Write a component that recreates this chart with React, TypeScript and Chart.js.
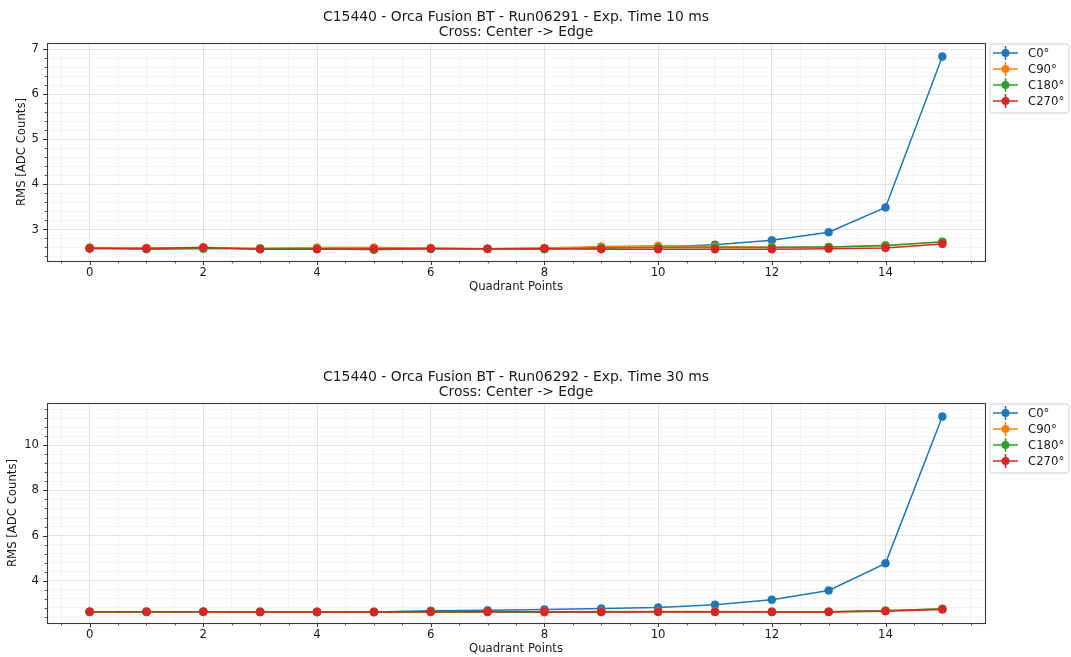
import React, { useEffect, useRef } from 'react';
import { Chart, registerables } from 'chart.js';

Chart.register(...registerables);

const quadrantPoints = [0, 1, 2, 3, 4, 5, 6, 7, 8, 9, 10, 11, 12, 13, 14, 15];
const seriesLabels = ['C0°', 'C90°', 'C180°', 'C270°'];
const seriesColors = ['#1f77b4', '#ff7f0e', '#2ca02c', '#d62728'];

// Run06291 - 10 ms
const run06291_C0 = [2.58, 2.58, 2.59, 2.57, 2.58, 2.56, 2.57, 2.57, 2.58, 2.6, 2.61, 2.66, 2.76, 2.94, 3.49, 6.84];
const run06291_C90 = [2.6, 2.59, 2.6, 2.58, 2.6, 2.6, 2.59, 2.57, 2.59, 2.62, 2.64, 2.62, 2.61, 2.61, 2.65, 2.72];
const run06291_C180 = [2.59, 2.56, 2.57, 2.58, 2.57, 2.55, 2.57, 2.57, 2.56, 2.59, 2.6, 2.6, 2.6, 2.61, 2.64, 2.73];
const run06291_C270 = [2.58, 2.58, 2.6, 2.56, 2.56, 2.57, 2.58, 2.57, 2.58, 2.56, 2.56, 2.56, 2.56, 2.57, 2.59, 2.68];

// Run06292 - 30 ms
const run06292_C0 = [2.63, 2.63, 2.63, 2.62, 2.62, 2.62, 2.67, 2.69, 2.73, 2.77, 2.82, 2.94, 3.16, 3.57, 4.77, 11.27];
const run06292_C90 = [2.63, 2.63, 2.63, 2.62, 2.63, 2.62, 2.63, 2.63, 2.63, 2.64, 2.64, 2.64, 2.63, 2.63, 2.68, 2.75];
const run06292_C180 = [2.62, 2.62, 2.63, 2.62, 2.61, 2.61, 2.62, 2.62, 2.61, 2.62, 2.63, 2.63, 2.63, 2.63, 2.67, 2.76];
const run06292_C270 = [2.63, 2.63, 2.63, 2.62, 2.62, 2.62, 2.63, 2.63, 2.63, 2.62, 2.62, 2.62, 2.62, 2.62, 2.65, 2.73];

const titleTop = ['C15440 - Orca Fusion BT - Run06291 - Exp. Time 10 ms', 'Cross: Center -> Edge'];
const titleBottom = ['C15440 - Orca Fusion BT - Run06292 - Exp. Time 30 ms', 'Cross: Center -> Edge'];
const xAxisTitle = 'Quadrant Points';
const yAxisTitle = 'RMS [ADC Counts]';

const FONT = "'DejaVu Sans', sans-serif";
const TEXT = '#1a1a1a';
const LABEL_SIZE = 11.7;
const TITLE_SIZE = 13.9;

function isMult(v: number, step: number) {
  const r = v / step;
  return Math.abs(r - Math.round(r)) < 1e-6;
}

function buildTicks(min: number, max: number, step: number) {
  const out: { value: number }[] = [];
  const start = Math.ceil(min / step - 1e-9);
  const end = Math.floor(max / step + 1e-9);
  for (let k = start; k <= end; k++) {
    out.push({ value: Math.round(k * step * 1e6) / 1e6 });
  }
  return out;
}

const decorPlugin = {
  id: 'decor',
  afterDraw(chart: any) {
    const opts = chart.options.plugins.decor;
    const { ctx, chartArea } = chart;
    const { left, right, top, bottom } = chartArea;
    ctx.save();
    // titles
    ctx.fillStyle = TEXT;
    ctx.font = `${TITLE_SIZE}px ${FONT}`;
    ctx.textAlign = 'center';
    ctx.textBaseline = 'alphabetic';
    const cx = (left + right) / 2;
    ctx.fillText(opts.title[0], cx, top - 22.3);
    ctx.fillText(opts.title[1], cx, top - 7);

    // tick marks
    ctx.strokeStyle = '#333';
    const xs = chart.scales.x;
    xs.ticks.forEach((t: any) => {
      const major = isMult(t.value, opts.xMajor);
      const px = Math.round(xs.getPixelForValue(t.value)) + 0.5;
      ctx.lineWidth = major ? 1 : 0.8;
      ctx.beginPath();
      ctx.moveTo(px, bottom);
      ctx.lineTo(px, bottom + (major ? 4 : 2.5));
      ctx.stroke();
    });
    const ys = chart.scales.y;
    ys.ticks.forEach((t: any) => {
      const major = isMult(t.value, opts.yMajor);
      const py = Math.round(ys.getPixelForValue(t.value)) + 0.5;
      ctx.lineWidth = major ? 1 : 0.8;
      ctx.beginPath();
      ctx.moveTo(left, py);
      ctx.lineTo(left - (major ? 4 : 2.5), py);
      ctx.stroke();
    });
    // frame
    ctx.strokeStyle = '#3a3a3a';
    ctx.lineWidth = 1.1;
    ctx.strokeRect(Math.round(left) + 0.5, Math.round(top) + 0.5, Math.round(right - left), Math.round(bottom - top));

    // legend
    const lx = right + 5;
    const ly = top + 1;
    const lw = 79;
    const lh = 69;
    const r = 3;
    ctx.beginPath();
    ctx.moveTo(lx + r, ly);
    ctx.lineTo(lx + lw - r, ly);
    ctx.quadraticCurveTo(lx + lw, ly, lx + lw, ly + r);
    ctx.lineTo(lx + lw, ly + lh - r);
    ctx.quadraticCurveTo(lx + lw, ly + lh, lx + lw - r, ly + lh);
    ctx.lineTo(lx + r, ly + lh);
    ctx.quadraticCurveTo(lx, ly + lh, lx, ly + lh - r);
    ctx.lineTo(lx, ly + r);
    ctx.quadraticCurveTo(lx, ly, lx + r, ly);
    ctx.closePath();
    ctx.fillStyle = 'rgba(255,255,255,0.85)';
    ctx.fill();
    ctx.strokeStyle = '#d0d0d0';
    ctx.lineWidth = 1;
    ctx.stroke();
    chart.data.datasets.forEach((ds: any, i: number) => {
      const cy = ly + 9 + i * 16;
      ctx.strokeStyle = ds.borderColor;
      ctx.fillStyle = ds.borderColor;
      ctx.lineWidth = 1.5;
      ctx.beginPath();
      ctx.moveTo(lx + 3, cy);
      ctx.lineTo(lx + 28, cy);
      ctx.stroke();
      ctx.beginPath();
      ctx.moveTo(lx + 15.5, cy - 7);
      ctx.lineTo(lx + 15.5, cy + 7);
      ctx.stroke();
      ctx.beginPath();
      ctx.arc(lx + 15.5, cy, 4, 0, Math.PI * 2);
      ctx.fill();
      ctx.fillStyle = TEXT;
      ctx.font = `${LABEL_SIZE}px ${FONT}`;
      ctx.textBaseline = 'middle';
      ctx.textAlign = 'left';
      ctx.fillText(ds.label, lx + 38, cy + 1);
    });
    ctx.restore();
  },
};

type PanelProps = {
  title: string[];
  series: number[][];
  yMin: number;
  yMax: number;
  yMajor: number;
  yMinor: number;
  top: number;
  height: number;
  padTop: number;
  yTitlePad: number;
};

function Panel(p: PanelProps) {
  const ref = useRef<HTMLCanvasElement>(null);
  useEffect(() => {
    if (!ref.current) return;
    const xMajor = 2;
    const gridColor = (major: boolean) => (major ? 'rgba(0,0,0,0.11)' : 'rgba(0,0,0,0.045)');
    const chart = new Chart(ref.current, {
      type: 'line',
      data: {
        datasets: p.series.map((vals, i) => ({
          label: seriesLabels[i],
          data: quadrantPoints.map((x, j) => ({ x, y: vals[j] })),
          borderColor: seriesColors[i],
          backgroundColor: seriesColors[i],
          pointBackgroundColor: seriesColors[i],
          pointBorderColor: seriesColors[i],
          borderWidth: 1.5,
          pointRadius: 4,
          pointBorderWidth: 0.5,
          tension: 0,
          order: 3 - i,
        })),
      },
      options: {
        animation: false,
        responsive: false,
        maintainAspectRatio: false,
        layout: { padding: { left: 0, right: 86, top: p.padTop, bottom: 0 } },
        plugins: {
          legend: { display: false },
          tooltip: { enabled: false },
          title: { display: false },
          decor: { xMajor, yMajor: p.yMajor, title: p.title },
        } as any,
        scales: {
          x: {
            type: 'linear',
            min: -0.75,
            max: 15.75,
            afterBuildTicks: (s: any) => {
              s.ticks = buildTicks(-0.75, 15.75, 0.5);
            },
            afterFit: (s: any) => {
              s.height = 39;
            },
            ticks: {
              autoSkip: false,
              maxRotation: 0,
              padding: 1,
              color: TEXT,
              font: { family: FONT, size: LABEL_SIZE },
              callback: (v: any) => (isMult(Number(v), xMajor) ? String(v) : ''),
            },
            grid: {
              color: (c: any) => gridColor(isMult(c.tick.value, xMajor)),
              tickColor: 'rgba(0,0,0,0)',
              tickLength: 4,
              lineWidth: 1,
            },
            border: { display: false },
            title: {
              display: true,
              text: xAxisTitle,
              color: TEXT,
              font: { family: FONT, size: LABEL_SIZE },
              padding: { top: 0, bottom: 6.5 },
            },
          },
          y: {
            type: 'linear',
            min: p.yMin,
            max: p.yMax,
            afterBuildTicks: (s: any) => {
              s.ticks = buildTicks(p.yMin, p.yMax, p.yMinor);
            },
            afterFit: (s: any) => {
              s.width = 47;
            },
            ticks: {
              autoSkip: false,
              padding: 4,
              color: TEXT,
              font: { family: FONT, size: LABEL_SIZE },
              callback: (v: any) => (isMult(Number(v), p.yMajor) ? String(Math.round(Number(v))) : ''),
            },
            grid: {
              color: (c: any) => gridColor(isMult(c.tick.value, p.yMajor)),
              tickColor: 'rgba(0,0,0,0)',
              tickLength: 4,
              lineWidth: 1,
            },
            border: { display: false },
            title: {
              display: true,
              text: yAxisTitle,
              color: TEXT,
              font: { family: FONT, size: LABEL_SIZE },
              padding: { top: p.yTitlePad, bottom: 0 },
            },
          },
        },
      },
      plugins: [decorPlugin],
    });
    return () => chart.destroy();
  }, []);
  return (
    <canvas
      ref={ref}
      width={1071}
      height={p.height}
      style={{ position: 'absolute', left: 0, top: p.top, width: 1071, height: p.height }}
    />
  );
}

export default function App() {
  return (
    <div
      style={{
        position: 'absolute',
        left: 0,
        top: 0,
        width: 1071,
        height: 657,
        overflow: 'hidden',
        background: '#fff',
      }}
    >
      <Panel
        title={titleTop}
        series={[run06291_C0, run06291_C90, run06291_C180, run06291_C270]}
        yMin={2.3}
        yMax={7.14}
        yMajor={1}
        yMinor={0.2}
        top={0}
        height={300}
        padTop={43}
        yTitlePad={14.7}
      />
      <Panel
        title={titleBottom}
        series={[run06292_C0, run06292_C90, run06292_C180, run06292_C270]}
        yMin={2.13}
        yMax={11.87}
        yMajor={2}
        yMinor={0.4}
        top={357}
        height={305}
        padTop={46}
        yTitlePad={6.3}
      />
    </div>
  );
}
